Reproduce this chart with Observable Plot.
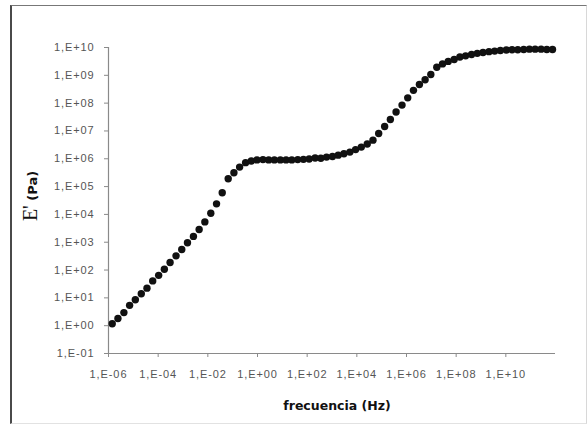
<!DOCTYPE html>
<html>
<head>
<meta charset="utf-8">
<script src="https://cdn.jsdelivr.net/npm/d3@7"></script>
<script src="https://cdn.jsdelivr.net/npm/@observablehq/plot@0.6"></script>
<style>
  html, body { margin: 0; padding: 0; background: #fff; }
  #wrap { position: relative; width: 587px; height: 433px; overflow: hidden; }
  #frame { position: absolute; left: 10px; top: 5px; width: 574px; height: 417px;
           border-left: 2px solid #4a4a4a; border-top: 1px solid #777;
           border-right: 1px solid #d8d8d8; border-bottom: 1px solid #e2e2e2; }
  #chart { position: absolute; left: 0; top: 0; }
  #chart svg text { font-family: "Liberation Sans", Arial, sans-serif; }
  .tick-lbl text { fill: #555; letter-spacing: 0.9px; }
</style>
</head>
<body>
<div id="wrap">
  <div id="frame"></div>
  <div id="chart"></div>
</div>
<script>
// log10 of frequency (Hz)
const freqExp = [
  -5.85, -5.62, -5.38, -5.15, -4.92, -4.68, -4.45, -4.22, -3.98, -3.75,
  -3.52, -3.28, -3.05, -2.82, -2.58, -2.35, -2.12, -1.88, -1.65, -1.42,
  -1.18, -0.95, -0.72, -0.48, -0.25, -0.02, 0.22, 0.45, 0.68, 0.92,
  1.15, 1.38, 1.62, 1.85, 2.08, 2.32, 2.55, 2.78, 3.02, 3.25,
  3.48, 3.72, 3.95, 4.18, 4.42, 4.65, 4.88, 5.12, 5.35, 5.58,
  5.82, 6.05, 6.28, 6.52, 6.75, 6.98, 7.22, 7.45, 7.68, 7.92,
  8.15, 8.38, 8.62, 8.85, 9.08, 9.32, 9.55, 9.78, 10.02, 10.25,
  10.48, 10.72, 10.95, 11.18, 11.42, 11.65, 11.88
];
// log10 of E' (Pa)
const modExp = [
  0.07, 0.26, 0.47, 0.73, 0.93, 1.15, 1.35, 1.61, 1.81, 2.03,
  2.27, 2.51, 2.74, 2.98, 3.21, 3.46, 3.73, 4.04, 4.38, 4.78,
  5.28, 5.50, 5.70, 5.86, 5.92, 5.96, 5.97, 5.96, 5.96, 5.96,
  5.96, 5.96, 5.97, 5.98, 5.99, 6.03, 6.02, 6.06, 6.08, 6.13,
  6.18, 6.24, 6.33, 6.42, 6.53, 6.67, 6.91, 7.16, 7.41, 7.68,
  7.93, 8.19, 8.46, 8.67, 8.84, 9.03, 9.29, 9.41, 9.50, 9.57,
  9.66, 9.70, 9.75, 9.79, 9.82, 9.85, 9.87, 9.89, 9.91, 9.92,
  9.92, 9.93, 9.94, 9.94, 9.94, 9.93, 9.93
];
const xTickExp = [-6, -4, -2, 0, 2, 4, 6, 8, 10];
const yTickExp = [-1, 0, 1, 2, 3, 4, 5, 6, 7, 8, 9, 10];
const xDomainExp = [-6, 12];
const yDomainExp = [-1, 10];
const xTitle = "frecuencia (Hz)";
const yTitleMain = "E'";
const yTitleUnit = " (Pa)";

const data = freqExp.map((f, i) => ({f: Math.pow(10, f), e: Math.pow(10, modExp[i])}));
const fmt = v => {
  const e = Math.round(Math.log10(v));
  return "1,E" + (e < 0 ? "-" : "+") + String(Math.abs(e)).padStart(2, "0");
};
const xD = xDomainExp.map(e => Math.pow(10, e));
const yD = yDomainExp.map(e => Math.pow(10, e));

const plot = Plot.plot({
  width: 587,
  height: 433,
  marginLeft: 108,
  marginRight: 32,
  marginTop: 47,
  marginBottom: 80,
  style: {background: "transparent", fontSize: "11px", overflow: "visible"},
  x: {type: "log", domain: xD},
  y: {type: "log", domain: yD},
  marks: [
    Plot.ruleX([xD[0]], {y1: yD[0], y2: yD[1], stroke: "#8a8a8a", strokeWidth: 1.2}),
    Plot.ruleY([yD[0]], {x1: xD[0], x2: xD[1], stroke: "#8a8a8a", strokeWidth: 1.2}),
    Plot.axisY({ticks: yTickExp.map(e => Math.pow(10, e)), tickFormat: fmt, tickSize: 4, tickPadding: 10,
                stroke: "#8a8a8a", label: null, className: "tick-lbl"}),
    Plot.axisX({ticks: xTickExp.map(e => Math.pow(10, e)), tickFormat: fmt, tickSize: 4, tickPadding: 13,
                stroke: "#8a8a8a", label: null, className: "tick-lbl"}),
    Plot.dot(data, {x: "f", y: "e", r: 3.7, fill: "#111", stroke: "none"})
  ]
});
document.getElementById("chart").appendChild(plot);

const svg = d3.select(plot);
svg.append("text")
  .attr("x", 337).attr("y", 410)
  .attr("text-anchor", "middle")
  .style("font-family", "'DejaVu Sans', sans-serif")
  .style("font-weight", "bold")
  .style("font-size", "12.5px")
  .attr("fill", "#111")
  .text(xTitle);

const yl = svg.append("text")
  .attr("transform", "translate(37,196) rotate(-90)")
  .attr("text-anchor", "middle")
  .attr("fill", "#111");
yl.append("tspan")
  .style("font-family", "'Liberation Serif', 'Times New Roman', serif")
  .style("font-size", "20px")
  .text(yTitleMain);
yl.append("tspan")
  .style("font-family", "'DejaVu Sans', sans-serif")
  .style("font-weight", "bold")
  .style("font-size", "13px")
  .text(yTitleUnit);
</script>
</body>
</html>
